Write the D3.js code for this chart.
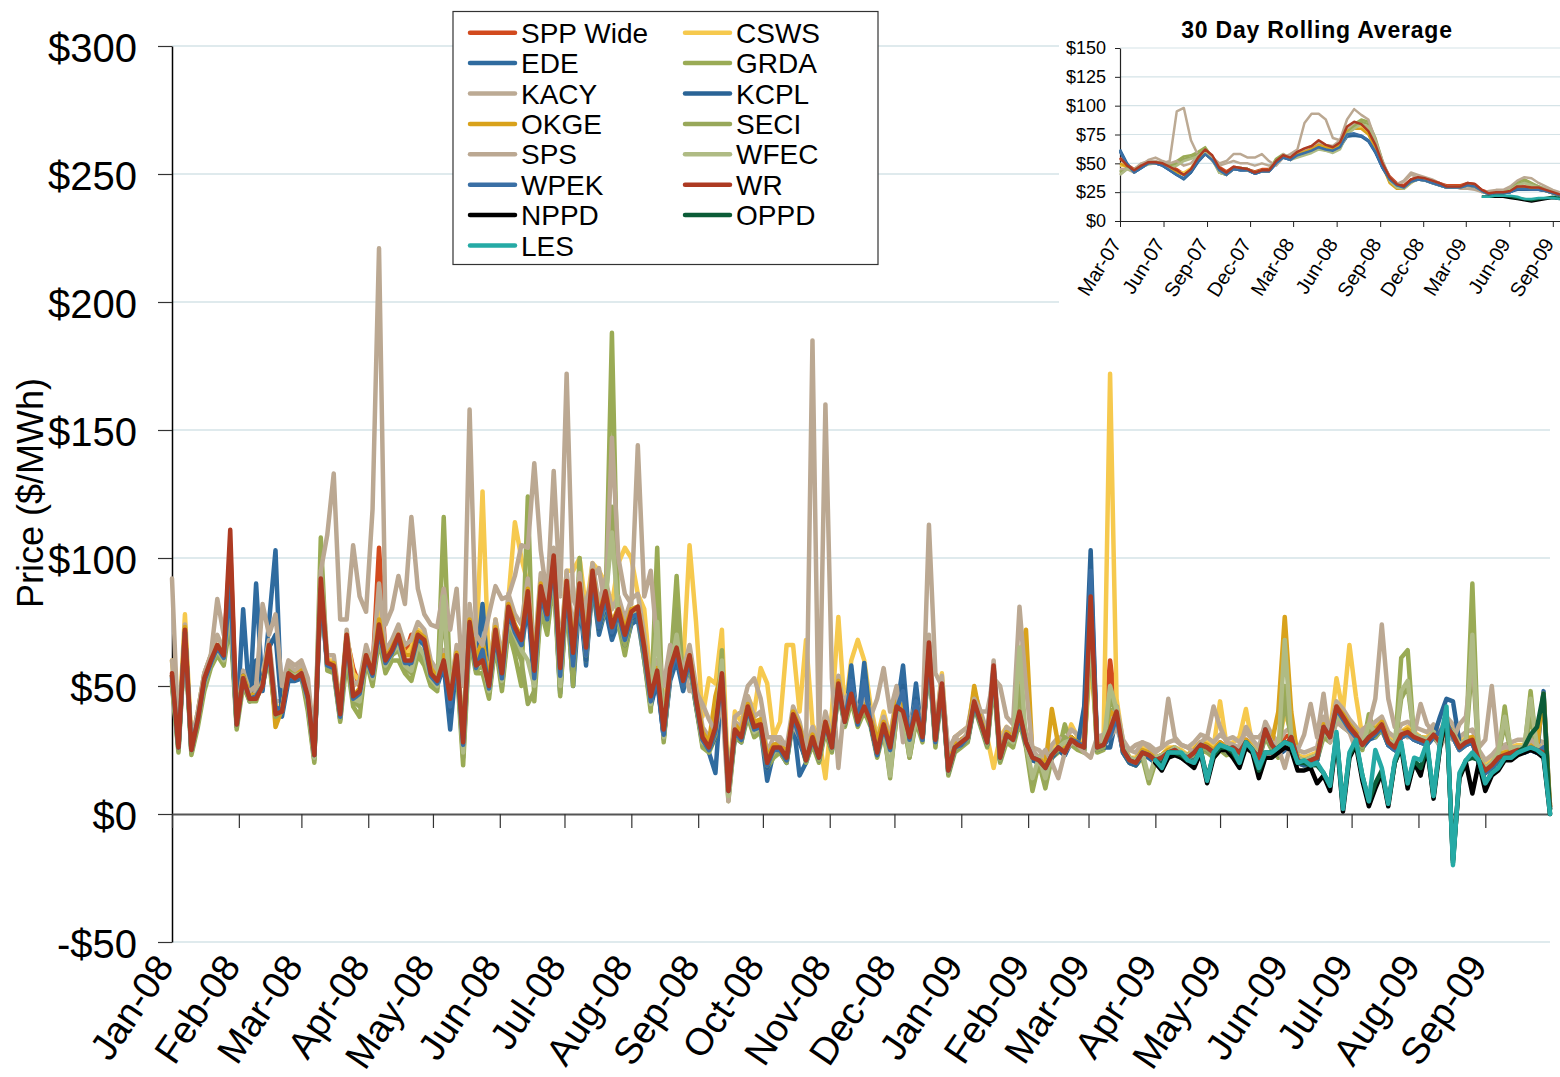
<!DOCTYPE html>
<html><head><meta charset="utf-8">
<script src="https://cdn.jsdelivr.net/npm/d3@7"></script>
<style>
body{margin:0;background:#fff}
svg{display:block}
text{font-family:"Liberation Sans",Arial,sans-serif;fill:#000}
</style>
</head><body>
<svg id="c" width="1560" height="1077"></svg>
<script>
// ---------- categories / series names ----------
const seriesNames = ["SPP Wide","CSWS","EDE","GRDA","KACY","KCPL","OKGE","SECI","SPS","WFEC","WPEK","WR","NPPD","OPPD","LES"];
const seriesColors = ["#d24a1e","#f6c94e","#2f6b9f","#9aab55","#bcaa94","#2a6496","#d9a21b","#98a85a","#bba892","#afbb84","#3a6fa5","#ad3a22","#000000","#0b5c37","#25aaa5"];
const yTickValues = [-50,0,50,100,150,200,250,300];
const insetYTickValues = [0,25,50,75,100,125,150];

// main chart: daily prices sampled every 3 days from 1 Jan 2008
const mainStart = "2008-01-01", mainStepDays = 3, mainEnd = "2009-10-01";
const SPP_WIDE = [54,27,70,26,38,52,60,65,63,104,36,52,47,46,52,65,42,41,54,54,
56,47,24,90,60,58,40,69,57,50,62,56,104,62,64,70,62,70,69,67,
56,52,60,44,62,29,74,58,62,51,72,56,80,73,69,86,57,88,78,99,
58,90,64,89,66,94,76,87,74,80,71,79,80,66,47,56,35,57,65,53,
61,46,31,27,35,56,10,34,31,42,35,36,21,27,27,24,40,34,23,31,
24,37,28,52,38,48,37,43,37,26,36,28,43,41,31,41,31,66,30,50,
19,27,29,31,44,37,29,57,23,32,30,41,29,23,22,19,24,27,25,30,
28,27,82,27,28,60,40,26,22,21,25,24,22,23,25,26,24,23,25,28,
27,25,28,26,27,25,29,26,23,33,28,25,30,31,22,21,22,23,35,31,
43,39,35,32,28,31,33,36,29,27,32,33,31,30,29,32,29,35,32,27,
29,30,22,18,20,23,24,25,26,26,27,26,25,3];
const CSWS = [60,30,78,28,40,55,62,66,64,85,38,55,48,48,52,66,42,42,56,55,
57,48,26,88,60,60,42,70,55,52,63,58,80,62,66,72,62,65,72,70,
58,54,62,48,64,32,78,62,126,55,76,60,84,114,100,90,60,92,84,102,
60,95,95,100,80,98,95,90,82,98,104,100,86,80,52,60,40,60,68,58,
105,75,38,53,51,72,12,40,36,46,40,57,51,30,36,66,66,40,68,35,
30,14,40,77,40,60,68,60,42,30,40,30,45,44,34,44,34,60,32,55,
20,30,32,34,46,38,30,18,30,34,32,44,30,24,22,22,26,28,26,35,
30,28,60,30,30,172,45,28,22,22,26,25,22,23,26,26,25,23,26,28,
28,26,44,27,28,30,41,27,24,34,28,26,40,32,23,22,23,24,36,32,
53,40,66,46,30,32,34,36,30,28,32,34,32,30,30,33,30,36,32,28,
30,30,23,20,22,24,25,26,27,27,28,27,26,4];
const EDE = [52,25,70,24,36,50,58,64,60,82,34,80,44,90,48,75,103,38,52,52,
53,44,22,88,57,56,37,68,44,46,60,53,72,58,62,67,58,58,68,66,
53,50,58,33,60,27,72,56,82,48,68,50,76,68,64,82,50,84,72,96,
47,86,50,84,58,90,70,80,68,75,64,74,76,60,42,52,30,52,60,48,
58,42,28,24,16,52,8,30,28,40,32,33,13,24,24,20,37,15,20,28,
21,34,25,48,35,58,35,59,35,23,33,25,40,58,29,51,29,60,28,48,
16,25,27,29,42,35,27,55,21,30,28,38,27,21,20,17,22,25,23,28,
26,25,90,25,26,32,38,24,20,19,23,22,20,21,23,24,22,21,23,26,
25,23,26,24,25,23,27,24,21,31,26,23,25,29,20,19,20,21,32,29,
39,36,32,29,26,29,30,33,27,25,30,31,29,28,27,30,27,32,30,25,
27,28,20,16,18,21,22,23,24,24,25,24,23,2];
const GRDA = [50,24,68,23,34,48,57,62,58,75,33,50,44,44,52,60,38,40,58,55,
54,40,20,108,56,55,36,60,42,38,60,50,68,55,60,60,55,52,62,58,
50,48,116,50,58,19,68,55,55,45,66,48,72,62,50,124,44,80,70,92,
46,84,50,100,60,90,72,80,188,74,62,76,78,60,40,104,28,55,93,50,
58,42,26,24,30,64,5,30,28,38,30,32,18,22,24,20,36,30,20,27,
20,32,24,48,34,44,34,40,34,22,32,16,38,38,22,36,28,60,26,48,
15,24,26,28,42,34,26,52,20,28,26,36,26,9,20,10,22,24,35,27,
25,24,70,24,25,40,42,24,20,19,22,12,20,21,22,24,22,21,22,25,
24,22,25,23,24,22,26,24,21,30,25,22,50,28,20,19,20,21,30,28,
36,34,32,29,25,39,30,33,27,25,61,64,29,28,27,30,27,32,30,25,
27,90,20,16,18,22,42,23,24,24,48,24,23,2];
const KACY = [60,28,74,27,40,55,62,70,64,95,38,56,48,48,55,68,44,44,58,56,
58,50,25,95,62,62,42,72,50,52,66,58,90,64,68,74,66,68,75,72,
60,56,64,46,66,30,82,62,66,54,76,60,86,78,74,92,62,94,84,104,
62,95,70,94,72,98,82,92,80,85,76,84,86,70,50,60,36,62,70,56,
66,50,34,30,36,58,12,36,34,46,38,40,24,30,30,26,42,36,25,34,
26,40,30,54,40,50,40,46,40,28,38,30,46,44,34,44,34,70,32,54,
22,30,32,34,48,40,32,60,26,34,32,44,32,26,25,22,27,30,28,33,
31,30,80,30,31,36,42,29,25,24,28,27,25,26,28,29,27,26,28,31,
30,28,31,29,30,28,32,29,26,36,31,28,32,34,25,24,25,26,38,34,
44,41,37,34,31,34,36,38,32,30,35,36,34,33,32,35,32,38,35,30,
32,33,25,21,23,26,27,28,29,29,30,29,28,4];
const KCPL = [53,26,71,25,37,52,59,65,61,80,35,54,45,60,50,65,70,40,54,53,
54,45,23,90,58,57,38,69,45,47,61,54,73,59,63,69,59,59,69,67,
54,51,59,40,61,27,73,57,62,49,70,52,78,70,66,84,52,86,75,98,
52,88,56,86,60,92,72,82,70,77,66,76,78,62,43,53,30,54,62,50,
60,43,28,25,30,53,8,31,29,40,33,34,18,25,25,21,38,28,21,29,
21,35,25,50,35,50,35,50,35,23,34,25,41,50,29,45,29,62,28,49,
16,25,27,29,43,35,27,56,21,30,28,39,27,21,20,17,22,25,23,30,
27,42,103,25,26,26,38,24,20,19,23,22,20,21,23,24,22,21,23,26,
25,23,26,24,25,23,27,24,21,32,26,23,25,28,20,19,20,21,33,29,
40,37,33,30,26,29,31,34,27,25,30,31,29,28,27,30,38,45,44,28,
27,28,20,16,18,21,22,23,24,24,25,24,48,2];
const OKGE = [54,28,73,26,39,54,61,66,62,95,36,54,47,46,51,66,34,41,56,54,
56,47,24,89,59,59,40,70,46,49,62,55,76,61,65,70,62,62,71,69,
57,53,62,45,63,29,76,60,68,51,73,56,82,74,69,88,57,90,79,99,
58,91,64,90,66,95,77,88,74,81,72,80,81,66,46,57,34,58,66,53,
62,46,32,28,46,56,10,35,32,43,36,37,22,27,28,23,40,34,23,31,
23,36,29,52,37,48,37,43,37,29,36,28,44,42,31,42,31,62,30,50,
19,27,29,31,50,37,29,54,23,32,30,60,72,23,22,19,41,27,25,30,
28,27,80,27,28,40,38,26,22,21,25,24,22,23,25,26,24,23,25,28,
27,25,28,26,27,25,29,26,23,33,28,40,77,40,22,21,22,23,35,31,
42,39,35,32,28,31,33,36,29,27,32,33,31,30,29,32,29,35,32,27,
29,30,22,18,20,23,24,25,26,26,27,26,47,3];
const SECI = [51,25,70,24,36,50,58,63,60,80,34,52,44,45,50,62,38,40,56,54,
55,42,21,95,57,56,37,64,44,42,60,52,70,57,62,64,57,55,65,60,
52,49,80,46,60,22,70,56,58,47,68,50,74,66,60,43,48,82,74,94,
48,86,55,88,62,92,74,82,120,76,66,77,79,62,42,80,29,55,80,51,
59,43,27,25,31,58,6,31,29,39,31,33,19,23,25,21,37,31,21,28,
21,33,25,49,35,45,35,41,35,23,33,14,39,39,22,37,29,62,27,49,
16,25,27,29,43,35,27,54,21,29,27,50,27,12,21,12,23,25,30,28,
26,25,72,25,26,45,40,25,21,20,23,13,21,22,23,25,23,22,23,26,
25,23,26,24,25,23,27,25,22,31,26,23,45,29,21,20,21,22,31,29,
37,35,33,30,26,33,31,34,28,26,45,50,30,29,28,31,28,33,31,26,
28,60,21,17,19,23,35,24,25,25,38,25,24,2];
const SPS = [92,30,65,28,40,55,62,84,70,80,40,50,48,50,82,70,78,50,60,58,
60,53,28,95,109,133,76,76,105,85,79,119,221,74,80,93,82,116,88,78,
74,73,88,72,88,50,158,70,66,78,89,84,85,93,105,104,137,103,84,134,
85,172,84,78,83,92,96,80,147,100,86,82,144,85,95,66,50,66,62,58,
48,48,43,37,32,45,5,38,40,50,53,45,30,30,28,27,35,30,25,185,
25,160,53,18,45,48,36,48,38,45,57,40,50,28,35,40,35,113,55,50,
25,30,28,32,45,40,40,53,50,38,35,81,50,25,22,25,20,14,24,28,
27,24,22,30,28,30,34,26,25,27,28,26,24,26,45,30,27,26,24,28,
30,42,34,28,27,26,34,30,30,33,28,26,18,28,25,31,43,30,47,28,
36,34,32,25,33,35,45,74,45,34,32,30,31,43,35,32,26,31,29,35,
38,61,26,29,50,25,26,26,26,26,29,27,25,3];
const WFEC = [52,26,71,25,37,51,59,64,60,85,35,52,45,46,51,63,40,41,55,54,
55,44,22,90,58,57,38,66,45,44,61,53,71,58,63,66,58,56,66,62,
53,50,85,44,61,24,72,57,60,48,69,52,76,70,64,60,50,84,76,96,
50,87,58,86,63,93,75,83,110,77,68,78,80,63,43,75,30,56,70,52,
60,44,28,26,32,60,7,32,30,40,32,34,20,24,26,22,38,32,22,29,
22,34,26,50,36,46,36,42,36,24,34,15,40,40,23,38,30,63,28,50,
17,26,28,30,44,36,28,55,22,30,28,65,28,14,22,14,24,26,28,29,
27,26,75,26,27,50,41,26,22,21,24,14,22,23,24,26,24,23,24,27,
26,24,27,25,26,24,28,26,23,32,27,24,68,30,22,21,22,23,32,30,
38,36,34,31,27,35,32,35,29,27,48,52,31,30,29,32,29,34,32,27,
29,70,22,18,20,24,38,25,26,26,45,26,25,2];
const WPEK = [54,26,71,25,37,52,59,65,61,90,35,53,45,46,50,64,42,40,54,53,
54,45,23,88,58,57,38,69,45,47,61,54,72,59,63,69,59,59,69,67,
54,51,59,42,61,27,74,57,64,49,70,53,79,71,66,85,53,86,76,99,
54,88,58,87,62,92,73,84,71,78,68,77,78,63,44,53,31,55,63,50,
60,44,29,25,32,54,9,32,29,41,33,34,19,25,25,21,38,30,21,29,
22,35,26,50,36,52,35,52,35,23,34,25,41,48,29,44,29,64,28,50,
17,26,27,30,43,36,28,57,22,31,29,39,28,22,21,18,23,26,24,29,
28,26,95,26,27,30,38,25,21,20,24,23,21,22,24,25,23,22,24,27,
26,24,27,25,26,24,28,25,22,33,27,24,26,30,21,20,21,22,34,30,
41,37,33,30,27,30,31,34,27,25,30,31,29,28,27,30,32,36,30,25,
27,28,20,16,18,21,22,23,24,24,25,24,26,2];
const WR = [55,26,72,25,37,53,60,66,62,111,35,53,45,45,50,66,39,40,55,53,
55,46,23,92,59,58,39,70,46,48,62,55,74,60,64,70,60,60,70,68,
55,52,60,45,62,28,75,58,60,50,72,55,81,73,68,87,56,89,78,101,
57,91,63,90,65,95,76,87,73,80,70,79,81,65,46,56,33,57,65,52,
62,45,30,26,34,55,9,33,30,42,34,35,20,26,26,22,39,33,21,30,
22,36,26,51,36,47,36,42,36,24,35,26,42,40,30,40,30,67,29,51,
17,26,28,30,44,36,28,58,22,31,29,40,28,22,21,18,23,26,24,29,
27,26,85,26,27,33,40,25,21,20,24,23,21,22,24,25,23,22,24,27,
26,24,27,25,26,24,28,25,22,33,27,24,26,30,21,20,21,22,34,30,
42,38,34,31,27,30,32,35,28,26,31,32,30,29,28,31,28,34,31,26,
28,29,21,17,19,22,23,24,25,25,26,25,24,3];
// these three start on 1 Apr 2009 (sample index 152)
const lateStartIndex = 152;
const NPPD = [20,17,22,23,22,20,18,24,
12,22,25,25,22,18,26,24,14,22,22,24,26,25,17,17,18,12,15,9,
30,1,22,27,13,3,10,16,3,20,26,10,20,15,26,6,26,39,-18,14,
20,8,20,9,15,17,21,21,23,24,25,24,22,0];
const OPPD = [21,19,24,24,23,21,20,25,
14,23,26,26,24,20,28,25,17,24,24,26,28,27,20,20,19,19,16,11,
31,3,23,28,15,5,12,17,4,20,27,12,21,18,27,7,27,40,-19,15,
21,22,21,12,16,18,22,22,24,26,31,34,47,0];
const LES = [21,18,24,24,24,21,20,25,
13,24,27,26,25,20,28,25,18,24,24,26,28,27,20,21,19,20,16,11,
32,2,24,29,15,5,25,18,4,21,28,12,22,21,28,7,28,42,-20,16,
21,24,21,12,16,18,22,22,24,25,26,25,23,0];

// inset: 30-day rolling averages sampled every 15 days from 1 Mar 2007
const insetStart = "2007-03-01", insetStepDays = 15, insetEnd = "2009-10-01";
const SPP_WIDE_AVG = [54,49,45,49,52,51,50,48,45,41,45,54,60,56,47,43,47,46,45,43,45,45,52,56,55,59,62,64,68,65,63,67,80,84,83,77,65,50,39,33,31,36,38,37,35,33,31,31,31,33,32,27,25,25,26,27,30,30,29,29,27,25,23];
const CSWS_AVG = [48,47,44,47,50,51,50,46,43,42,46,54,58,54,45,42,46,45,44,42,44,44,50,55,54,58,60,62,65,64,64,68,78,82,82,76,64,48,34,29,28,34,37,36,34,32,30,30,30,32,31,26,24,25,26,28,33,33,30,29,27,25,23];
const EDE_AVG = [62,50,42,46,50,50,48,44,40,37,42,52,58,53,44,40,45,44,44,41,43,43,50,55,53,57,59,60,64,62,60,64,74,75,74,70,60,46,36,31,29,34,36,35,33,31,29,29,29,31,30,26,23,24,24,25,28,28,27,27,26,24,22];
const GRDA_AVG = [42,46,44,48,50,51,50,48,52,56,57,60,64,55,42,40,46,46,45,42,44,44,54,58,54,56,58,60,64,62,60,64,78,84,88,86,72,52,36,30,29,34,37,36,34,32,29,29,29,31,30,26,23,24,25,28,34,36,33,30,28,25,22];
const KACY_AVG = [40,45,45,50,52,52,50,52,95,98,70,57,60,52,48,50,52,50,50,48,50,48,50,58,55,60,62,65,68,66,65,70,80,85,85,80,68,50,38,32,34,40,38,37,35,32,30,30,30,30,28,25,25,25,26,28,31,33,32,30,28,26,23];
const KCPL_AVG = [60,49,42,46,50,50,48,44,40,36,42,51,58,53,44,40,45,44,44,41,43,43,50,55,53,57,59,60,64,62,60,64,73,74,73,69,59,46,36,31,29,34,36,35,33,31,29,29,29,31,30,26,23,24,24,25,27,27,27,27,26,24,22];
const OKGE_AVG = [50,47,43,47,50,51,49,45,42,40,44,53,58,54,45,41,46,45,44,42,44,44,51,56,54,58,60,62,66,64,62,66,78,80,80,75,63,48,33,28,28,33,37,36,34,32,30,30,30,32,31,26,24,24,25,26,29,29,28,28,26,24,22];
const SECI_AVG = [43,46,44,48,50,51,50,47,50,54,55,58,62,54,42,40,46,46,45,42,44,44,53,57,54,56,58,60,63,61,60,63,76,82,86,84,70,51,35,30,29,34,37,36,34,32,29,29,29,31,30,26,23,24,25,27,32,34,32,30,27,25,22];
const SPS_AVG = [45,45,42,48,53,55,52,50,52,48,50,57,60,55,50,52,58,58,55,55,58,52,48,55,58,62,85,93,93,88,72,70,88,97,92,88,70,52,38,32,35,42,40,38,36,33,30,30,28,28,27,25,26,27,27,30,35,38,37,33,30,27,25];
const WFEC_AVG = [40,45,43,47,49,50,49,46,48,52,54,56,60,53,42,40,45,45,44,42,43,43,52,56,53,55,57,59,62,61,59,62,75,80,84,82,68,50,35,29,28,33,36,35,33,31,29,29,29,31,30,26,23,24,25,27,31,33,31,29,27,25,22];
const WPEK_AVG = [61,49,42,46,50,50,48,44,40,37,43,52,58,53,44,40,45,44,44,41,43,43,50,55,53,57,59,61,64,62,61,64,75,76,74,70,60,46,36,31,29,34,36,35,33,31,29,29,29,31,30,26,23,24,24,25,28,28,27,27,26,24,22];
const WR_AVG = [55,48,44,48,51,51,50,47,44,40,45,55,62,57,46,42,47,46,45,42,44,44,52,57,55,60,63,65,70,66,64,68,82,86,84,78,66,50,38,32,30,36,38,37,35,33,30,30,30,33,32,27,24,25,25,26,30,30,29,29,27,25,23];
const insetLateStartIndex = 51;
const NPPD_AVG = [21,21,21,21,20,19,18,17,18,19,20,19];
const OPPD_AVG = [21,21,22,22,21,20,19,18,19,20,21,20];
const LES_AVG = [21,21,22,22,22,21,19,19,20,20,20,19];

const mainSeries = [SPP_WIDE,CSWS,EDE,GRDA,KACY,KCPL,OKGE,SECI,SPS,WFEC,WPEK,WR,NPPD,OPPD,LES];
const mainOffsets = [0,0,0,0,0,0,0,0,0,0,0,0,lateStartIndex,lateStartIndex,lateStartIndex];
const insetSeries = [SPP_WIDE_AVG,CSWS_AVG,EDE_AVG,GRDA_AVG,KACY_AVG,KCPL_AVG,OKGE_AVG,SECI_AVG,SPS_AVG,WFEC_AVG,WPEK_AVG,WR_AVG,NPPD_AVG,OPPD_AVG,LES_AVG];
const insetOffsets = [0,0,0,0,0,0,0,0,0,0,0,0,insetLateStartIndex,insetLateStartIndex,insetLateStartIndex];

// ---------- drawing ----------
const svg = d3.select("#c");
const parse = d3.utcParse("%Y-%m-%d");
const moneyFmt = v => v < 0 ? "-$" + (-v) : "$" + v;
const monFmt = d3.utcFormat("%b-%y");
const GRID = "#d5e3e7";

// main scales
const x = d3.scaleUtc().domain([parse(mainStart), parse(mainEnd)]).range([172, 1550]);
const y = d3.scaleLinear().domain([-50, 300]).range([942, 46]);

// gridlines
svg.append("g").selectAll("line").data(yTickValues.filter(v => v !== 0)).join("line")
  .attr("x1", 172).attr("x2", 1550).attr("y1", d => y(d)).attr("y2", d => y(d))
  .attr("stroke", GRID).attr("stroke-width", 1.5);

// y axis
const yAxis = svg.append("g").attr("transform", "translate(172,0)")
  .call(d3.axisLeft(y).tickValues(yTickValues).tickSize(14).tickSizeOuter(0).tickPadding(21).tickFormat(moneyFmt));
yAxis.select(".domain").attr("stroke", "#000").attr("stroke-width", 1.5);
yAxis.selectAll(".tick line").attr("stroke", "#333").attr("stroke-width", 1.2);
yAxis.selectAll(".tick text").attr("font-size", 40).attr("font-family", "Liberation Sans, Arial, sans-serif").attr("dy", "0.38em").attr("fill", "#000");

// x axis at $0
const months = d3.utcMonth.range(parse(mainStart), parse(mainEnd));
const xAxis = svg.append("g").attr("transform", `translate(0,${y(0)})`)
  .call(d3.axisBottom(x).tickValues(months).tickSize(14).tickSizeOuter(0).tickFormat(""));
xAxis.select(".domain").attr("stroke", "#555").attr("stroke-width", 2);
xAxis.selectAll(".tick line").attr("stroke", "#333").attr("stroke-width", 1.2);

// x labels at bottom
svg.append("g").selectAll("text").data(months).join("text")
  .attr("transform", d => `translate(${x(d) - 8},959) rotate(-56)`)
  .attr("text-anchor", "end").attr("dy", "0.35em")
  .attr("font-size", 38).text(d => monFmt(d));

// y title
svg.append("text").attr("transform", "translate(30,493) rotate(-90)")
  .attr("text-anchor", "middle").attr("dy", "0.35em").attr("font-size", 36)
  .text("Price ($/MWh)");

// main lines
const line = d3.line().x(d => x(d.date)).y(d => y(d.v));
const mainG = svg.append("g");
seriesNames.forEach((name, s) => {
  const pts = mainSeries[s].map((v, j) => ({date: d3.utcDay.offset(parse(mainStart), mainStepDays * (mainOffsets[s] + j)), v}));
  mainG.append("path").datum(pts).attr("d", line)
    .attr("fill", "none").attr("stroke", seriesColors[s]).attr("stroke-width", 4.5)
    .attr("stroke-linejoin", "round").attr("stroke-linecap", "round");
});

// ---------- inset ----------
const ins = svg.append("g");
ins.append("rect").attr("x", 1059).attr("y", 0).attr("width", 501).attr("height", 309).attr("fill", "#fff");
const ix = d3.scaleUtc().domain([parse(insetStart), parse(insetEnd)]).range([1120, 1567]);
const iy = d3.scaleLinear().domain([0, 150]).range([221, 48]);
ins.append("g").selectAll("line").data(insetYTickValues.filter(v => v !== 0)).join("line")
  .attr("x1", 1120).attr("x2", 1560).attr("y1", d => iy(d)).attr("y2", d => iy(d))
  .attr("stroke", GRID).attr("stroke-width", 1.2);
const iyAxis = ins.append("g").attr("transform", "translate(1120,0)")
  .call(d3.axisLeft(iy).tickValues(insetYTickValues).tickSize(5).tickSizeOuter(0).tickPadding(9).tickFormat(moneyFmt));
iyAxis.select(".domain").attr("stroke", "#222").attr("stroke-width", 1.2);
iyAxis.selectAll(".tick line").attr("stroke", "#222");
iyAxis.selectAll(".tick text").attr("font-size", 18).attr("font-family", "Liberation Sans, Arial, sans-serif").attr("fill", "#000");
const insetMonths = d3.utcMonth.range(parse(insetStart), parse(insetEnd), 3);
const ixAxis = ins.append("g").attr("transform", `translate(0,${iy(0)})`)
  .call(d3.axisBottom(ix).tickValues(insetMonths).tickSize(6).tickSizeOuter(0).tickFormat(""));
ixAxis.select(".domain").attr("stroke", "#222").attr("stroke-width", 1.2);
ixAxis.selectAll(".tick line").attr("stroke", "#222");
ins.append("g").selectAll("text").data(insetMonths).join("text")
  .attr("transform", d => `translate(${ix(d) - 4},240) rotate(-58)`)
  .attr("text-anchor", "end").attr("dy", "0.35em").attr("font-size", 20)
  .text(d => monFmt(d));
ins.append("text").attr("x", 1317).attr("y", 38).attr("text-anchor", "middle")
  .attr("font-size", 23).attr("font-weight", "bold").attr("letter-spacing", 0.8)
  .text("30 Day Rolling Average");
const iline = d3.line().x(d => ix(d.date)).y(d => iy(d.v));
seriesNames.forEach((name, s) => {
  const pts = insetSeries[s].map((v, j) => ({date: d3.utcDay.offset(parse(insetStart), insetStepDays * (insetOffsets[s] + j)), v}));
  ins.append("path").datum(pts).attr("d", iline)
    .attr("fill", "none").attr("stroke", seriesColors[s]).attr("stroke-width", 2.5)
    .attr("stroke-linejoin", "round");
});

// ---------- legend ----------
const lg = svg.append("g");
lg.append("rect").attr("x", 453).attr("y", 11.5).attr("width", 425).attr("height", 253)
  .attr("fill", "#fff").attr("stroke", "#333").attr("stroke-width", 1.2);
seriesNames.forEach((name, s) => {
  const col = s % 2, row = Math.floor(s / 2);
  const lx = col === 0 ? 470 : 685, cy = 32.7 + row * 30.4;
  lg.append("line").attr("x1", lx).attr("x2", lx + 45).attr("y1", cy).attr("y2", cy)
    .attr("stroke", seriesColors[s]).attr("stroke-width", 4.5).attr("stroke-linecap", "round");
  lg.append("text").attr("x", lx + 51).attr("y", cy).attr("dy", "0.36em")
    .attr("font-size", 28).text(name);
});
</script>
</body></html>
